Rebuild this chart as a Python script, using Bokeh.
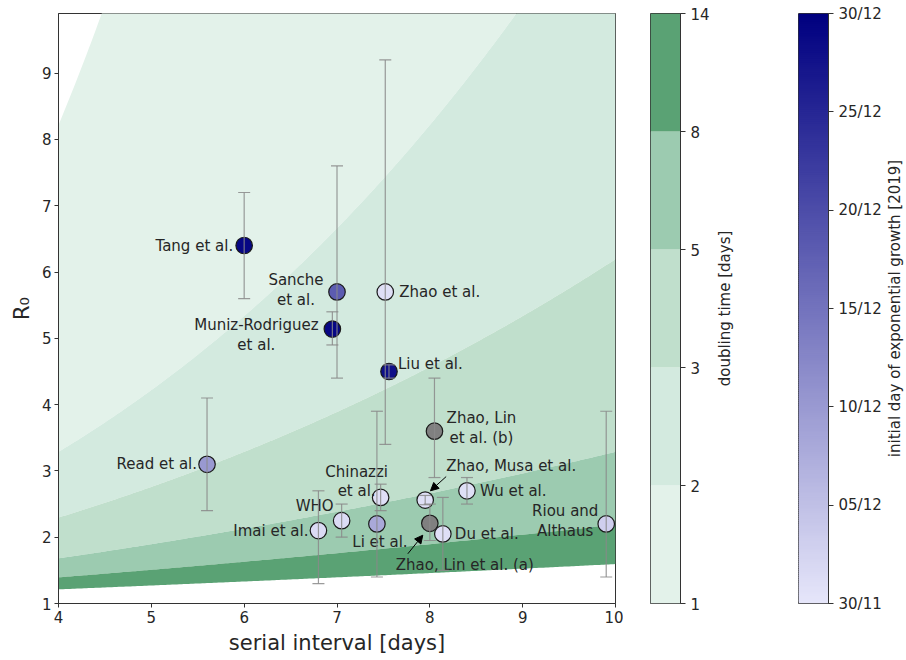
import numpy as np
from bokeh.plotting import figure
from bokeh.models import (ColumnDataSource, Range1d, FixedTicker, LinearColorMapper,
                          Whisker, TeeHead, Arrow, NormalHead)
from bokeh.layouts import row
from bokeh.transform import transform
from bokeh.core.properties import value
from bokeh.embed import file_html
from bokeh.resources import INLINE

# ---------------- data ----------------
studies = ["Tang et al.", "Sanche et al.", "Muniz-Rodriguez et al.", "Zhao et al.",
           "Liu et al.", "Zhao, Lin et al. (b)", "Read et al.", "Chinazzi et al.",
           "Zhao, Musa et al.", "Wu et al.", "WHO", "Imai et al.", "Li et al.",
           "Zhao, Lin et al. (a)", "Du et al.", "Riou and Althaus"]
serial_interval = [6.0, 7.0, 6.95, 7.52, 7.56, 8.05, 5.6, 7.47,
                   7.95, 8.4, 7.05, 6.8, 7.43, 8.0, 8.14, 9.9]
r0 = [6.4, 5.7, 5.14, 5.7, 4.5, 3.6, 3.1, 2.6,
      2.56, 2.7, 2.25, 2.1, 2.2, 2.21, 2.05, 2.2]
r0_low = [5.6, 4.4, 4.9, 3.4, 4.4, 2.9, 2.4, 2.4,
          2.49, 2.5, 2.0, 1.3, 1.4, 1.95, 1.5, 1.4]
r0_high = [7.2, 7.6, 5.4, 9.2, 4.6, 4.4, 4.1, 2.8,
           2.63, 2.9, 2.5, 2.7, 3.9, 2.5, 2.6, 3.9]
# initial day of exponential growth, days after 30/11/2019 (nan = unknown)
start_day = [29, 18, 29, 1, 28, np.nan, 10, 1,
             1, 1, 1.5, 1.5, 8, np.nan, 1, 3]

doubling_levels = [1, 2, 3, 5, 8, 14]
date_tick_days = [0, 5, 10, 15, 20, 25, 30]
date_tick_labels = ["30/11", "05/12", "10/12", "15/12", "20/12", "25/12", "30/12"]

# label placement (display text, alignment, pixel offsets)
label_text = ["Tang et al.", "Sanche\net al.", "Muniz-Rodriguez\net al.", "Zhao et al.",
              "Liu et al.", "Zhao, Lin\net al. (b)", "Read et al.", "Chinazzi\net al.",
              "Zhao, Musa et al.", "Wu et al.", "WHO", "Imai et al.", "Li et al.",
              "Zhao, Lin et al. (a)", "Du et al.", "Riou and\nAlthaus"]
label_align = ["right", "center", "center", "left", "left", "center", "right", "center",
               "center", "left", "right", "right", "center", "center", "left", "center"]
label_dx = [-11, -41, -76, 14, 9, 47, -10, -24, 86, 13, -8, -10, 3, 35, 12, -41]
label_dy = [0, -2, 6, 0, -7, -3, 0, -16, -34, 0, -15, 0, 18, 42, 0, -3]

FONT = "DejaVu Sans"
TXT = "#262626"
band_colors = ["#e3f2ea", "#d3eadf", "#c0dfcc", "#9ccbb0", "#5aa274"]

TOP, FH, BOT = 13, 590, 47


def r0_model(si, td, k=4):
    r = np.log(2) / td
    return (1 + r * si / k) ** k


lav = np.array([230, 230, 250])
navy = np.array([0, 0, 128])
palette = ["#%02x%02x%02x" % tuple(int(round(c)) for c in (lav + (navy - lav) * t))
           for t in np.linspace(0, 1, 256)]
mapper = LinearColorMapper(palette=palette, low=0, high=30, nan_color="#808080")

# ---------------- main figure ----------------
p = figure(frame_width=557, frame_height=FH, min_border_left=58, min_border_right=8,
           min_border_top=TOP, min_border_bottom=BOT,
           x_range=Range1d(4, 10), y_range=Range1d(1, 9.9),
           output_backend="svg", toolbar_location=None, tools="")

xs = np.linspace(4, 10, 241)
for i in range(len(doubling_levels) - 1):
    p.varea(x=xs, y1=r0_model(xs, doubling_levels[i + 1]),
            y2=r0_model(xs, doubling_levels[i]), fill_color=band_colors[i])

src = ColumnDataSource(dict(x=np.array(serial_interval), y=np.array(r0),
                            lo=np.array(r0_low), hi=np.array(r0_high),
                            day=np.array(start_day, dtype=float)))
p.scatter("x", "y", source=src, size=16.5, fill_color=transform("day", mapper),
          line_color="#1a1a1a", line_width=1.2)

ecol = "#8a8a8a"
w = Whisker(source=src, base="x", lower="lo", upper="hi", dimension="height",
            line_color=ecol, line_width=1.2, line_alpha=0.85, level="overlay",
            upper_head=TeeHead(size=12, line_color=ecol, line_width=1.2, line_alpha=0.85),
            lower_head=TeeHead(size=12, line_color=ecol, line_width=1.2, line_alpha=0.85))
p.add_layout(w)

for al in ["left", "right", "center"]:
    idx = [i for i, a in enumerate(label_align) if a == al]
    ls = ColumnDataSource(dict(x=[serial_interval[i] for i in idx],
                               y=[r0[i] for i in idx],
                               t=[label_text[i] for i in idx],
                               dx=[label_dx[i] for i in idx],
                               dy=[label_dy[i] for i in idx]))
    p.text("x", "y", text="t", source=ls, x_offset="dx", y_offset="dy",
           text_align=al, text_baseline="middle", text_font_size="15px",
           text_color=TXT, text_line_height=1.1, text_font=value(FONT))

# arrows pointing to crowded markers
i_musa = studies.index("Zhao, Musa et al.")
i_lina = studies.index("Zhao, Lin et al. (a)")
arrow_specs = [(i_musa, (0.226, 0.355), (0.057, 0.14)),
               (i_lina, (-0.237, -0.46), (-0.076, -0.18))]
for i, (tx, ty), (hx, hy) in arrow_specs:
    x0, y0 = serial_interval[i], r0[i]
    p.add_layout(Arrow(x_start=x0 + tx, y_start=y0 + ty, x_end=x0 + hx, y_end=y0 + hy,
                       line_color="black", line_width=1,
                       end=NormalHead(size=8, fill_color="black", line_color="black")))

p.xaxis.ticker = FixedTicker(ticks=list(range(4, 11)))
p.yaxis.ticker = FixedTicker(ticks=list(range(1, 10)))
p.xaxis.axis_label = "serial interval [days]"
p.yaxis.axis_label = "R\u2080"
for ax in [p.xaxis[0], p.yaxis[0]]:
    ax.major_label_text_font = FONT
    ax.major_label_text_font_size = "15px"
    ax.major_label_text_color = TXT
    ax.axis_label_text_font = FONT
    ax.axis_label_text_font_size = "21px"
    ax.axis_label_text_font_style = "normal"
    ax.axis_label_text_color = TXT
    ax.minor_tick_line_color = None
    ax.major_tick_in = 0
    ax.major_tick_out = 4
    ax.major_tick_line_color = "#333333"
    ax.axis_line_color = "#333333"
    ax.major_label_standoff = 3
    ax.axis_label_standoff = 5
p.xgrid.visible = False
p.ygrid.visible = False
p.outline_line_color = "#333333"
p.outline_line_width = 1
p.outline_line_alpha = 1


def style_cbar(f):
    ax = f.yaxis[0]
    ax.major_label_text_font = FONT
    ax.major_label_text_font_size = "15px"
    ax.major_label_text_color = TXT
    ax.minor_tick_line_color = None
    ax.major_tick_in = 0
    ax.major_tick_out = 5
    ax.major_tick_line_color = "#333333"
    ax.axis_line_color = "#333333"
    ax.major_label_standoff = 5
    f.xgrid.visible = False
    f.ygrid.visible = False
    f.outline_line_color = "#333333"
    f.outline_line_alpha = 1


def label_fig(text, fw, border_left=0):
    f = figure(frame_width=fw, frame_height=FH, min_border=0, min_border_top=TOP,
               min_border_bottom=BOT, min_border_left=border_left, min_border_right=0,
               x_range=Range1d(0, 1), y_range=Range1d(0, 1),
               x_axis_location=None, y_axis_location=None,
               output_backend="svg", toolbar_location=None, tools="")
    f.xgrid.visible = False
    f.ygrid.visible = False
    f.outline_line_color = None
    f.text(x=[0.5], y=[0.5], text=[text], angle=np.pi / 2, text_align="center",
           text_baseline="middle", text_font=value(FONT), text_font_size="15px",
           text_color=TXT)
    return f


# ---------------- doubling-time colour bar ----------------
nb = len(doubling_levels) - 1
cb1 = figure(frame_width=30, frame_height=FH, min_border_left=27, min_border_right=32,
             min_border_top=TOP, min_border_bottom=BOT,
             x_range=Range1d(0, 1), y_range=Range1d(0, nb),
             y_axis_location="right", x_axis_location=None,
             output_backend="svg", toolbar_location=None, tools="")
cb1.quad(left=0, right=1, bottom=list(range(nb)), top=list(range(1, nb + 1)),
         fill_color=band_colors, line_color=None)
cb1.yaxis.ticker = FixedTicker(ticks=list(range(nb + 1)))
cb1.yaxis.major_label_overrides = {i: str(v) for i, v in enumerate(doubling_levels)}
style_cbar(cb1)

lab1 = label_fig("doubling time [days]", 24)

# ---------------- start-date colour bar ----------------
cb2 = figure(frame_width=30, frame_height=FH, min_border_left=62, min_border_right=56,
             min_border_top=TOP, min_border_bottom=BOT,
             x_range=Range1d(0, 1), y_range=Range1d(0, 30),
             y_axis_location="right", x_axis_location=None,
             output_backend="svg", toolbar_location=None, tools="")
edges = np.linspace(0, 30, 301)
gsrc = ColumnDataSource(dict(b=edges[:-1], t=np.minimum(edges[1:] + 0.06, 30),
                             m=(edges[:-1] + edges[1:]) / 2))
cb2.quad(left=0, right=1, bottom="b", top="t", source=gsrc,
         fill_color=transform("m", mapper), line_color=None)
cb2.yaxis.ticker = FixedTicker(ticks=date_tick_days)
cb2.yaxis.major_label_overrides = {d: s for d, s in zip(date_tick_days, date_tick_labels)}
style_cbar(cb2)

lab2 = label_fig("initial day of exponential growth [2019]", 21)

layout = row(p, cb1, lab1, cb2, lab2)
open("out.html", "w").write(file_html(layout, INLINE))
